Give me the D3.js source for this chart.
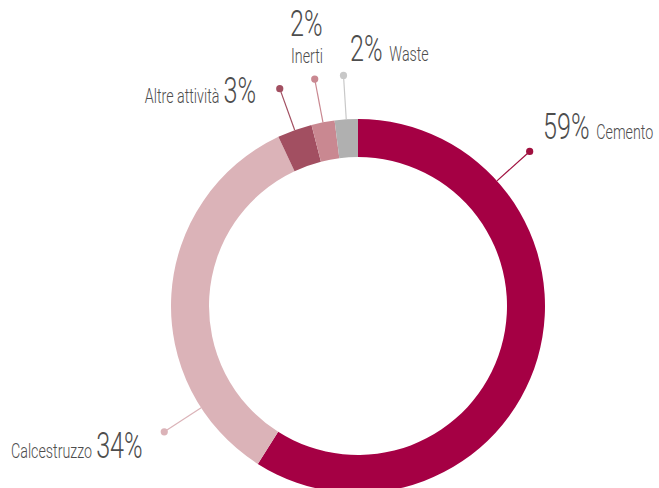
<!DOCTYPE html>
<html>
<head>
<meta charset="utf-8">
<script src="https://cdn.jsdelivr.net/npm/d3@7"></script>
<style>
  html, body { margin: 0; padding: 0; background: #fff; }
  svg { display: block; }
  text { font-family: Roboto, "Liberation Sans", sans-serif; font-weight: 300; fill: #4d4d4d; }
</style>
</head>
<body>
<svg id="chart" width="659" height="488"></svg>
<script>
// Share of activity by business line (%), clockwise from 12 o'clock
const categories = ["Cemento", "Calcestruzzo", "Altre attività", "Inerti", "Waste"];
const values = [59, 34, 3, 2, 2];
const colors = ["#a50044", "#dbb3b8", "#a24f61", "#c98891", "#b0b0b0"];
const dotColors = ["#a0103f", "#dbb3b8", "#a24f61", "#c98891", "#c8c8c8"];
// Angle (degrees, clockwise from top) of each leader line; null = slice midpoint
const leaderAngles = [48, 237, null, null, null];

const svg = d3.select("#chart");
const cx = 358, cy = 306;
const outerR = 187, innerR = 149, dotR = 231;

const pie = d3.pie().sort(null).value(d => d)(values);
const arc = d3.arc().innerRadius(innerR).outerRadius(outerR);

const g = svg.append("g").attr("transform", `translate(${cx},${cy})`);

g.selectAll("path.slice")
  .data(pie)
  .join("path")
  .attr("class", "slice")
  .attr("d", arc)
  .attr("fill", (d, i) => colors[i]);

// Leader lines with end dots
const rad = deg => deg * Math.PI / 180;
const leaders = pie.map((d, i) => {
  const a = leaderAngles[i] != null ? rad(leaderAngles[i]) : (d.startAngle + d.endAngle) / 2;
  return {
    x1: Math.sin(a) * outerR, y1: -Math.cos(a) * outerR,
    x2: Math.sin(a) * dotR, y2: -Math.cos(a) * dotR, i
  };
});

g.selectAll("line.leader")
  .data(leaders)
  .join("line")
  .attr("class", "leader")
  .attr("x1", d => d.x1).attr("y1", d => d.y1)
  .attr("x2", d => d.x2).attr("y2", d => d.y2)
  .attr("stroke", d => dotColors[d.i])
  .attr("stroke-width", 1.2);

g.selectAll("circle.dot")
  .data(leaders)
  .join("circle")
  .attr("class", "dot")
  .attr("cx", d => d.x2).attr("cy", d => d.y2)
  .attr("r", 3.6)
  .attr("fill", d => dotColors[d.i]);

// Labels: condensed thin type, large percentage + smaller name
const SX = 0.68, BIG = 37, SMALL = 21;
function label(x, y, anchor, parts) {
  const t = svg.append("text")
    .attr("transform", `translate(${x},${y}) scale(${SX},1)`)
    .attr("text-anchor", anchor);
  parts.forEach(p => {
    t.append("tspan").attr("font-size", p.size).attr("dx", p.dx || 0).text(p.text);
  });
}
const pct = i => `${values[i]}%`;

// Cemento
label(543, 139, "start", [{ text: pct(0), size: BIG }, { text: categories[0], size: SMALL, dx: 10 }]);
// Waste
label(350, 61, "start", [{ text: pct(4), size: BIG }, { text: categories[4], size: SMALL, dx: 10 }]);
// Inerti (stacked)
label(290, 36, "start", [{ text: pct(3), size: BIG }]);
label(291, 63, "start", [{ text: categories[3], size: SMALL }]);
// Altre attività
label(256, 103, "end", [{ text: categories[2], size: SMALL }, { text: pct(2), size: BIG, dx: 6 }]);
// Calcestruzzo
label(11, 458, "start", [{ text: categories[1], size: SMALL }, { text: pct(1), size: BIG, dx: 6 }]);
</script>
</body>
</html>
